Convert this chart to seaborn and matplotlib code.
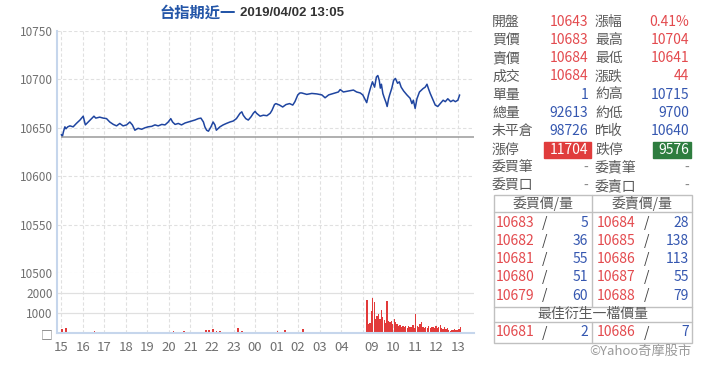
import matplotlib
matplotlib.use("Agg")
import matplotlib.pyplot as plt
import matplotlib.patches as mpatches
import matplotlib.lines as mlines
import seaborn as sns
import numpy as np
import pandas as pd

# ---------------- data ----------------
title_main = "台指期近一"
title_time = "2019/04/02 13:05"
prev_close = 10640

price_times = [
    "15:00", "15:03", "15:06", "15:10", "15:13", "15:18", "15:24", "15:33", "15:42", "15:52",
    "16:01", "16:07", "16:15", "16:24", "16:31", "16:36", "16:47", "16:57", "17:06", "17:15",
    "17:25", "17:34", "17:43", "17:52", "18:02", "18:11", "18:18", "18:25", "18:34", "18:44",
    "18:53", "19:02", "19:12", "19:21", "19:30", "19:40", "19:49", "19:58", "20:05", "20:10",
    "20:17", "20:26", "20:35", "20:45", "20:54", "21:03", "21:12", "21:22", "21:29", "21:36",
    "21:40", "21:45", "21:50", "21:57", "22:03", "22:08", "22:12", "22:22", "22:31", "22:40",
    "22:50", "22:59", "23:08", "23:18", "23:23", "23:27", "23:34", "23:41", "23:49", "23:55",
    "00:00", "00:04", "00:14", "00:23", "00:33", "00:42", "00:47", "00:54", "00:58", "01:08",
    "01:17", "01:26", "01:36", "01:45", "01:51", "01:59", "02:05", "02:10", "02:24", "02:38",
    "02:52", "03:06", "03:15", "03:25", "03:38", "03:52", "03:57", "04:06", "04:20", "04:34",
    "04:43", "04:53", "05:00",
    "08:46", "08:51", "08:56", "09:02", "09:08", "09:13", "09:17", "09:21", "09:24", "09:27",
    "09:31", "09:35", "09:40", "09:43", "09:47", "09:50", "09:56", "10:01", "10:06", "10:12",
    "10:17", "10:22", "10:29", "10:38", "10:47", "10:52", "10:56", "11:01", "11:06", "11:13",
    "11:23", "11:29", "11:34", "11:38", "11:43", "11:51", "11:57", "12:04", "12:11", "12:19",
    "12:25", "12:32", "12:40", "12:47", "12:53", "13:00", "13:05",
]
price_values = [
    10643, 10641, 10646, 10651, 10649, 10651, 10652, 10651, 10654.5, 10658,
    10662, 10653, 10656, 10659.5, 10662, 10660, 10661, 10660, 10659.5, 10656,
    10653.5, 10652, 10654.5, 10652, 10653, 10656, 10653, 10647.5, 10649.5, 10648.5,
    10650, 10651, 10651.5, 10653, 10652, 10653.5, 10653, 10656, 10659.5, 10656,
    10653.5, 10654.5, 10653, 10655, 10656, 10657, 10658, 10659.5, 10660, 10656,
    10651, 10647.5, 10646.5, 10651, 10656, 10653, 10647.5, 10651, 10653, 10654.5,
    10656, 10657, 10659.5, 10665, 10666.5, 10663, 10659.5, 10658, 10661.5, 10665,
    10667, 10665, 10662, 10663, 10662.5, 10665, 10668, 10674, 10675, 10673.5,
    10671.5, 10674, 10675, 10673.5, 10677, 10684, 10686, 10686, 10684.5, 10685.5,
    10685, 10684, 10681, 10684, 10685.5, 10687, 10689.5, 10687, 10688, 10689,
    10687, 10686, 10684,
    10676, 10684, 10690.5, 10697.5, 10692, 10702.5, 10704, 10699, 10691, 10695,
    10685.5, 10681, 10676, 10672, 10680, 10684, 10691, 10699, 10701, 10696,
    10697.5, 10692, 10688, 10684, 10680.5, 10675, 10678.5, 10670, 10680, 10687,
    10690.5, 10692, 10695, 10690.5, 10685.5, 10678.5, 10673.5, 10672, 10675, 10678.5,
    10677, 10680, 10677, 10678.5, 10677, 10678.5, 10684,
]

# volume, night session every 10 minutes from 15:00
night_volume = [
    200, 250, 60, 50, 80, 60,
    80, 50, 40, 100, 40, 30,
    40, 30, 50, 40, 30, 40,
    30, 40, 30, 30, 50, 30,
    30, 40, 30, 50, 30, 40,
    60, 90, 40, 50, 120, 40,
    40, 50, 60, 80, 150, 180,
    200, 120, 90, 80, 60, 50,
    60, 250, 90, 60, 50, 40,
    60, 50, 40, 80, 50, 40,
    90, 80, 150, 60, 40, 30,
    60, 200, 80, 60, 40, 30,
    30, 40, 30, 50, 30, 40,
    40, 30, 50, 30, 70, 40,
]
# volume, day session every 4 minutes from 08:45
day_volume = [
    1650, 450, 500, 1100, 1750, 1550, 700, 850, 950, 700,
    1150, 800, 650, 500, 1600, 600, 550, 600, 450, 700,
    550, 450, 350, 400, 300, 350, 300, 350, 250, 350,
    300, 300, 400, 250, 950, 350, 300, 450, 550, 300,
    250, 300, 250, 350, 250, 300, 300, 250, 350, 250,
    300, 400, 250, 200, 300, 200, 250, 150, 100, 150,
    150, 200, 150, 150, 200, 300,
]

hour_labels = ["15", "16", "17", "18", "19", "20", "21", "22", "23", "00",
               "01", "02", "03", "04", "09", "10", "11", "12", "13"]
price_ticks = [10500, 10550, 10600, 10650, 10700, 10750]
volume_ticks = [0, 1000, 2000]
volume_ticklabels = ["□", "1000", "2000"]

left_rows = [("開盤", "10643", "r"), ("買價", "10683", "r"), ("賣價", "10684", "r"),
             ("成交", "10684", "r"), ("單量", "1", "b"), ("總量", "92613", "b"),
             ("未平倉", "98726", "b"), ("漲停", "11704", "up"), ("委買筆", "-", "g"),
             ("委買口", "-", "g")]
right_rows = [("漲幅", "0.41%", "r"), ("最高", "10704", "r"), ("最低", "10641", "r"),
              ("漲跌", "44", "r"), ("約高", "10715", "b"), ("約低", "9700", "b"),
              ("昨收", "10640", "b"), ("跌停", "9576", "dn"), ("委賣筆", "-", "g"),
              ("委賣口", "-", "g")]
bid_prices = ["10683", "10682", "10681", "10680", "10679"]
bid_qty = ["5", "36", "55", "51", "60"]
ask_prices = ["10684", "10685", "10686", "10687", "10688"]
ask_qty = ["28", "138", "113", "55", "79"]
best_bid = ("10681", "2")
best_ask = ("10686", "7")


# ------------- time scale (trading minutes) -------------
def tmin(s):
    h, m = map(int, s.split(":"))
    if h >= 15:
        return (h - 15) * 60 + m
    if h < 8:
        return (h + 9) * 60 + m
    return 850 + (h * 60 + m - 525)


hour_strs = [f"{h}:00" for h in hour_labels]
hour_pos = [tmin(h) for h in hour_strs]

df_price = pd.DataFrame({"t": [tmin(s) for s in price_times], "price": price_values})
night_t = [i * 10 for i in range(len(night_volume))]
day_t = [850 + i * 4 for i in range(len(day_volume))]

# ---------------- style ----------------
sns.set_style("white")
plt.rcParams["font.family"] = ["Noto Sans CJK TC", "DejaVu Sans"]

W, H = 720, 367
fig = plt.figure(figsize=(W / 100, H / 100), dpi=100)


def fx(x):
    return x / W


def fy(y):
    return 1 - y / H


ax_l, ax_r = 57, 474
axp = fig.add_axes([fx(ax_l), fy(273), fx(ax_r - ax_l), (273 - 31) / H])
axv = fig.add_axes([fx(ax_l), fy(333.3), fx(ax_r - ax_l), (333.3 - 273) / H], sharex=axp)

spine_c = "#c6d6ec"
grid_c = "#e0e0e0"
tick_c = "#707070"

# price line
sns.lineplot(data=df_price, x="t", y="price", ax=axp, color="#1f45a0", lw=1.1,
             estimator=None, sort=False)
axp.hlines(prev_close, 0, 1150, color="#9a9a9a", lw=1.1, zorder=3)
axp.set_ylim(price_ticks[0], price_ticks[-1])
axp.set_yticks(price_ticks)
axp.set_xlim(-12, 1150)
axp.set_xlabel("")
axp.set_ylabel("")
axp.grid(axis="y", ls=(0, (3, 2)), color=grid_c, lw=0.8)
axp.grid(axis="x", which="both", ls=(0, (3, 2)), color=grid_c, lw=0.8)
for s in ["top", "right", "bottom"]:
    axp.spines[s].set_visible(False)
axp.spines["left"].set_color(spine_c)
axp.spines["left"].set_linewidth(1.5)
axp.tick_params(axis="y", length=0, pad=3, labelsize=8.5, labelcolor=tick_c)
axp.tick_params(axis="x", which="both", length=0, labelbottom=False)

# volume bars
axv.bar(night_t, night_volume, width=5, color="#e23a3a", align="edge", lw=0)
axv.bar(day_t, day_volume, width=3.6, color="#e23a3a", align="edge", lw=0)
axv.set_ylim(0, 3000)
axv.set_yticks(volume_ticks)
axv.set_yticklabels(volume_ticklabels)
axv.set_xticks(hour_pos)
axv.set_xticklabels(hour_labels)
axv.set_xticks([tmin("05:00")], minor=True)
axv.grid(axis="y", ls="-", color=grid_c, lw=0.9)
axv.grid(axis="x", which="both", ls=(0, (3, 2)), color=grid_c, lw=0.8)
for s in ["top", "right"]:
    axv.spines[s].set_visible(False)
for s in ["left", "bottom"]:
    axv.spines[s].set_color(spine_c)
    axv.spines[s].set_linewidth(1.5)
axv.tick_params(axis="y", length=0, pad=3, labelsize=8.5, labelcolor=tick_c)
axv.tick_params(axis="x", which="major", length=3.5, width=1, color=spine_c, pad=2,
                labelsize=9.5, labelcolor=tick_c)
axv.tick_params(axis="x", which="minor", length=0)

# title
fig.text(fx(236), fy(13), title_main, ha="right", va="center", fontsize=11,
         color="#2456a8", fontweight="bold")
fig.text(fx(240), fy(13), title_time, ha="left", va="center", fontsize=9.5,
         color="#333333", fontweight="bold", family=["Liberation Sans", "DejaVu Sans"])

# right-hand quote table
red = "#e34a4e"
blue = "#3557b0"
lab = "#5a5a5a"
colmap = {"r": red, "b": blue, "g": "#888888", "up": "white", "dn": "white"}
fs = 10
row_y = [21.5 + i * 18.3 for i in range(10)]
for (l1, v1, c1), (l2, v2, c2), y in zip(left_rows, right_rows, row_y):
    fig.text(fx(492), fy(y), l1, ha="left", va="center", fontsize=fs, color=lab)
    fig.text(fx(595), fy(y), l2, ha="left", va="center", fontsize=fs, color=lab)
    if c1 == "up":
        fig.patches.append(mpatches.Rectangle((fx(544), fy(158)), fx(47), 16 / H,
                                              transform=fig.transFigure, color="#e03c3c",
                                              zorder=0))
    if c2 == "dn":
        fig.patches.append(mpatches.Rectangle((fx(653), fy(158)), fx(38), 16 / H,
                                              transform=fig.transFigure, color="#2e7d3f",
                                              zorder=0))
    fig.text(fx(588), fy(y), v1, ha="right", va="center", fontsize=fs, color=colmap[c1])
    fig.text(fx(689), fy(y), v2, ha="right", va="center", fontsize=fs, color=colmap[c2])

# order book box
bc = "#c0c0c0"
bx0, bx1, bxm = 494, 692, 592
by0, by1 = 195, 343
fig.patches.append(mpatches.Rectangle((fx(bx0), fy(by1)), fx(bx1 - bx0), (by1 - by0) / H,
                                      transform=fig.transFigure, fill=False, ec=bc, lw=1))


def hline(y):
    fig.lines.append(mlines.Line2D([fx(bx0), fx(bx1)], [fy(y), fy(y)],
                                   transform=fig.transFigure, color=bc, lw=1))


def vline(y0, y1):
    fig.lines.append(mlines.Line2D([fx(bxm), fx(bxm)], [fy(y0), fy(y1)],
                                   transform=fig.transFigure, color=bc, lw=1))


hline(212)
hline(306.5)
hline(322)
vline(by0, 306.5)
vline(322, by1)

fig.text(fx(543), fy(203.5), "委買價/量", ha="center", va="center", fontsize=fs, color=lab)
fig.text(fx(642), fy(203.5), "委賣價/量", ha="center", va="center", fontsize=fs, color=lab)
ob_y = [222.7 + i * 18.2 for i in range(5)]
for bp, bq, ap, aq, y in zip(bid_prices, bid_qty, ask_prices, ask_qty, ob_y):
    fig.text(fx(496), fy(y), bp, ha="left", va="center", fontsize=fs, color=red)
    fig.text(fx(545), fy(y), "/", ha="center", va="center", fontsize=fs, color="#444444")
    fig.text(fx(588), fy(y), bq, ha="right", va="center", fontsize=fs, color=blue)
    fig.text(fx(597), fy(y), ap, ha="left", va="center", fontsize=fs, color=red)
    fig.text(fx(647), fy(y), "/", ha="center", va="center", fontsize=fs, color="#444444")
    fig.text(fx(689), fy(y), aq, ha="right", va="center", fontsize=fs, color=blue)

fig.text(fx(593), fy(314), "最佳衍生一檔價量", ha="center", va="center", fontsize=fs, color=lab)
yb = 332.5
fig.text(fx(496), fy(yb), best_bid[0], ha="left", va="center", fontsize=fs, color=red)
fig.text(fx(545), fy(yb), "/", ha="center", va="center", fontsize=fs, color="#444444")
fig.text(fx(588), fy(yb), best_bid[1], ha="right", va="center", fontsize=fs, color=blue)
fig.text(fx(597), fy(yb), best_ask[0], ha="left", va="center", fontsize=fs, color=red)
fig.text(fx(647), fy(yb), "/", ha="center", va="center", fontsize=fs, color="#444444")
fig.text(fx(689), fy(yb), best_ask[1], ha="right", va="center", fontsize=fs, color=blue)

fig.text(fx(692), fy(351), "©Yahoo奇摩股市", ha="right", va="center", fontsize=9.5,
         color="#9a9a9a")

fig.savefig("out.png", dpi=100)
